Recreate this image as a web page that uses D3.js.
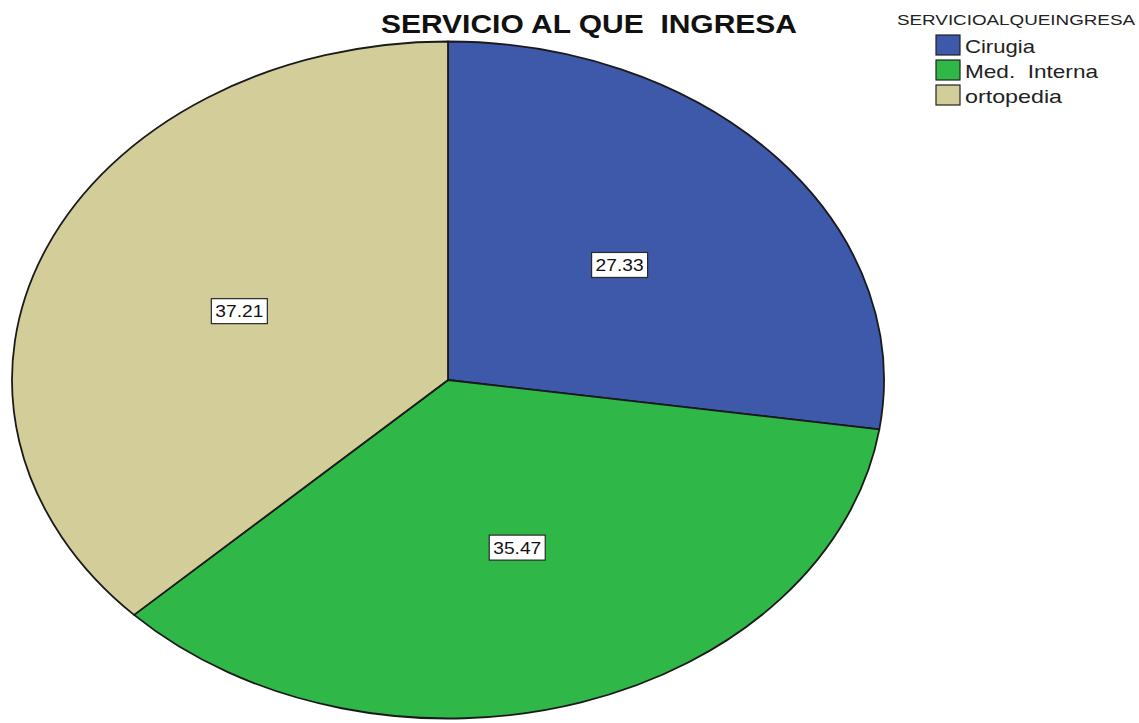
<!DOCTYPE html>
<html>
<head>
<meta charset="utf-8">
<script src="https://cdn.jsdelivr.net/npm/d3@7"></script>
<style>
  html, body { margin: 0; padding: 0; background: #fff; }
  svg { display: block; }
  text { font-family: "Liberation Sans", Arial, sans-serif; }
</style>
</head>
<body>
<svg id="chart" width="1139" height="723"></svg>
<script>
// Admissions by service (percent)
const categories = ["Cirugia", "Med. Interna", "ortopedia"];
const values = [27.33, 35.47, 37.21];
const colors = ["#3e58aa", "#2fb848", "#d3ce99"];
const chartTitle = "SERVICIO AL QUE  INGRESA";
const legendTitle = "SERVICIOALQUEINGRESA";

const svg = d3.select("#chart");

// Elliptical pie: circular arcs scaled horizontally
const cx = 448, cy = 380, rx = 436, ry = 338.5;
const sx = rx / ry;

const pie = d3.pie().sort(null).value(d => d.value);
const arcs = pie(categories.map((c, i) => ({ name: c, value: values[i], color: colors[i] })));
const arc = d3.arc().innerRadius(0).outerRadius(ry);
const labelArc = d3.arc().innerRadius(ry * 0.52).outerRadius(ry * 0.52);

const pieG = svg.append("g").attr("transform", `translate(${cx},${cy})`);

pieG.selectAll("path.slice")
  .data(arcs)
  .join("path")
  .attr("class", "slice")
  .attr("transform", `scale(${sx},1)`)
  .attr("d", arc)
  .attr("fill", d => d.data.color)
  .attr("stroke", "#1a1a1a")
  .attr("stroke-width", 1.8)
  .attr("stroke-linejoin", "round")
  .attr("vector-effect", "non-scaling-stroke");

// Value labels in white boxes
const labels = pieG.selectAll("g.lbl")
  .data(arcs)
  .join("g")
  .attr("class", "lbl")
  .attr("transform", d => {
    const [x, y] = labelArc.centroid(d);
    return `translate(${x * sx},${y})`;
  });

labels.append("rect")
  .attr("x", -28).attr("y", -12.5)
  .attr("width", 56).attr("height", 25)
  .attr("fill", "#fff")
  .attr("stroke", "#2a2a2a")
  .attr("stroke-width", 1.2);

labels.append("text")
  .attr("text-anchor", "middle")
  .attr("y", 6)
  .attr("font-size", 17)
  .attr("textLength", 48)
  .attr("lengthAdjust", "spacingAndGlyphs")
  .attr("fill", "#111")
  .text(d => d.data.value.toFixed(2));

// Title
svg.append("text")
  .attr("x", 381).attr("y", 33)
  .attr("font-size", 26)
  .attr("font-weight", "bold")
  .attr("textLength", 416)
  .attr("lengthAdjust", "spacingAndGlyphs")
  .attr("fill", "#111")
  .style("white-space", "pre")
  .text(chartTitle);

// Legend
const legend = svg.append("g");
legend.append("text")
  .attr("x", 897).attr("y", 25)
  .attr("font-size", 14)
  .attr("textLength", 238)
  .attr("lengthAdjust", "spacingAndGlyphs")
  .attr("fill", "#222")
  .text(legendTitle);

const itemWidths = [70, 133, 97];
const items = legend.selectAll("g.item")
  .data(categories)
  .join("g")
  .attr("class", "item")
  .attr("transform", (d, i) => `translate(936,${35 + i * 25})`);

items.append("rect")
  .attr("width", 24).attr("height", 20)
  .attr("fill", (d, i) => colors[i])
  .attr("stroke", "#222")
  .attr("stroke-width", 1.2);

items.append("text")
  .attr("x", 29).attr("y", 18)
  .attr("font-size", 19)
  .attr("textLength", (d, i) => itemWidths[i])
  .attr("lengthAdjust", "spacingAndGlyphs")
  .attr("fill", "#222")
  .style("white-space", "pre")
  .text(d => d === "Med. Interna" ? "Med.  Interna" : d);
</script>
</body>
</html>
